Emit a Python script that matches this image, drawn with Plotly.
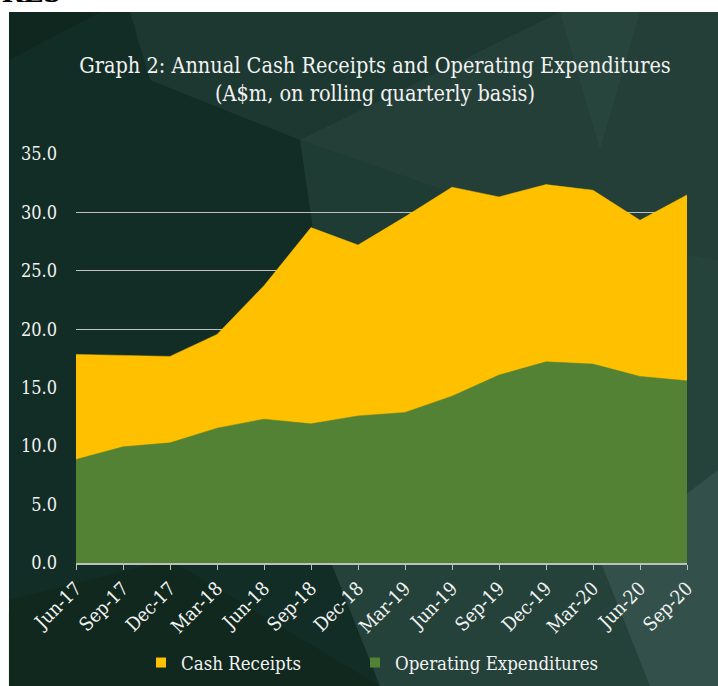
import plotly.graph_objects as go

quarters = ["Jun-17", "Sep-17", "Dec-17", "Mar-18", "Jun-18", "Sep-18", "Dec-18",
            "Mar-19", "Jun-19", "Sep-19", "Dec-19", "Mar-20", "Jun-20", "Sep-20"]
cash_receipts = [17.85, 17.75, 17.68, 19.56, 23.73, 28.70, 27.21,
                 29.62, 32.16, 31.33, 32.38, 31.90, 29.33, 31.50]
operating_expenditures = [8.86, 9.94, 10.28, 11.54, 12.31, 11.91, 12.59,
                          12.88, 14.28, 16.08, 17.22, 17.02, 15.97, 15.59]
y_ticks = [0, 5, 10, 15, 20, 25, 30, 35]

W, H = 718, 686
L, R, T, B = 76, 31, 154, 123
PW, PH = W - L - R, H - T - B

def px(x, y):
    return (x - L) / PW, (H - B - y) / PH

def poly(points, color):
    pts = [px(x, y) for x, y in points]
    path = "M " + " L ".join(f"{a:.4f},{b:.4f}" for a, b in pts) + " Z"
    return dict(type="path", xref="paper", yref="paper", path=path,
                fillcolor=color, line=dict(width=0), layer="below")

serif = "DejaVu Serif Condensed, Liberation Serif, serif"
YEL, GRN = "#FFC000", "#548235"

fig = go.Figure()
fig.add_trace(go.Scatter(x=quarters, y=cash_receipts, name="Cash Receipts", showlegend=False,
                         mode="lines", fill="tozeroy", line=dict(color=YEL, width=0.5),
                         fillcolor=YEL))
fig.add_trace(go.Scatter(x=quarters, y=operating_expenditures, name="Operating Expenditures",
                         showlegend=False, mode="lines", fill="tozeroy",
                         line=dict(color=GRN, width=0.5), fillcolor=GRN))
# legend entries with square swatches
fig.add_trace(go.Scatter(x=[None], y=[None], mode="markers", name="Cash Receipts",
                         marker=dict(symbol="square", size=10, color=YEL), legend="legend"))
fig.add_trace(go.Scatter(x=[None], y=[None], mode="markers", name="Operating Expenditures",
                         marker=dict(symbol="square", size=10, color=GRN), legend="legend2"))

shapes = [
    dict(type="rect", xref="paper", yref="paper", x0=px(0, 0)[0], x1=px(W, 0)[0],
         y0=px(0, 12)[1], y1=px(0, 0)[1], fillcolor="white", line=dict(width=0), layer="below"),
    dict(type="rect", xref="paper", yref="paper", x0=px(0, 0)[0], x1=px(9, 0)[0],
         y0=px(0, H)[1], y1=px(0, 0)[1], fillcolor="white", line=dict(width=0), layer="below"),
    poly([(130, 12), (560, 12), (300, 140), (150, 80)], "#1c3830"),
    poly([(9, 12), (130, 12), (150, 80), (300, 140), (380, 686), (9, 686)], "#122d26"),
    poly([(9, 12), (100, 12), (9, 60)], "#0f271f"),
    poly([(560, 12), (718, 12), (718, 260), (560, 230), (300, 140)], "#233f38"),
    poly([(560, 12), (640, 12), (600, 150)], "#27443d"),
    poly([(560, 230), (718, 260), (718, 470), (640, 560)], "#26433b"),
    poly([(380, 686), (330, 560), (620, 560), (680, 686)], "#24413a"),
    poly([(600, 560), (718, 470), (718, 686), (650, 686)], "#33504a"),
    poly([(9, 600), (170, 560), (380, 686), (9, 686)], "#11281f"),
]

fig.update_layout(
    width=W, height=H,
    margin=dict(l=L, r=R, t=T, b=B, autoexpand=False),
    paper_bgcolor="#1f3c34",
    plot_bgcolor="rgba(0,0,0,0)",
    shapes=shapes,
    font=dict(family=serif, color="#f2f2f2"),
    title=dict(text="Graph 2: Annual Cash Receipts and Operating Expenditures<br>(A$m, on rolling quarterly basis)",
               x=px(375, 0)[0], xref="paper", xanchor="center",
               y=1 - 73 / H, yanchor="top",
               font=dict(family=serif, size=21.5, color="#f2f2f2")),
    showlegend=True,
    legend=dict(orientation="h", x=px(141, 0)[0], xanchor="left",
                y=px(0, 644)[1], yanchor="top",
                font=dict(family=serif, size=18.5, color="#f2f2f2"),
                bgcolor="rgba(0,0,0,0)", itemwidth=30),
    legend2=dict(orientation="h", x=px(355, 0)[0], xanchor="left",
                 y=px(0, 644)[1], yanchor="top",
                 font=dict(family=serif, size=18.5, color="#f2f2f2"),
                 bgcolor="rgba(0,0,0,0)", itemwidth=30),
    annotations=[dict(text="<b>RES</b>", xref="paper", yref="paper",
                      x=px(0, 0)[0], y=px(0, 10)[1], xanchor="left", yanchor="bottom",
                      showarrow=False,
                      font=dict(family="Liberation Serif, serif", size=30, color="black"))],
)

fig.update_xaxes(
    type="category", range=[0, len(quarters) - 1], automargin=False,
    showgrid=False, showline=True, linecolor="#bfbfbf", linewidth=1.5,
    ticks="outside", ticklen=5, tickcolor="#bfbfbf", tickwidth=1,
    tickangle=-45, tickfont=dict(family=serif, size=19, color="#f2f2f2"),
    zeroline=False,
)
fig.update_yaxes(
    range=[0, 35], tickvals=y_ticks, ticktext=[f"{v:.1f}" for v in y_ticks], automargin=False,
    showgrid=True, gridcolor="#bfbfbf", gridwidth=1.3,
    showline=False, zeroline=False, ticks="", ticklabelstandoff=18,
    tickfont=dict(family=serif, size=18, color="#f2f2f2"),
)

fig.write_html("out.html", config={"displayModeBar": False},
               post_script="document.body.style.margin='0';document.body.style.overflow='hidden';")
